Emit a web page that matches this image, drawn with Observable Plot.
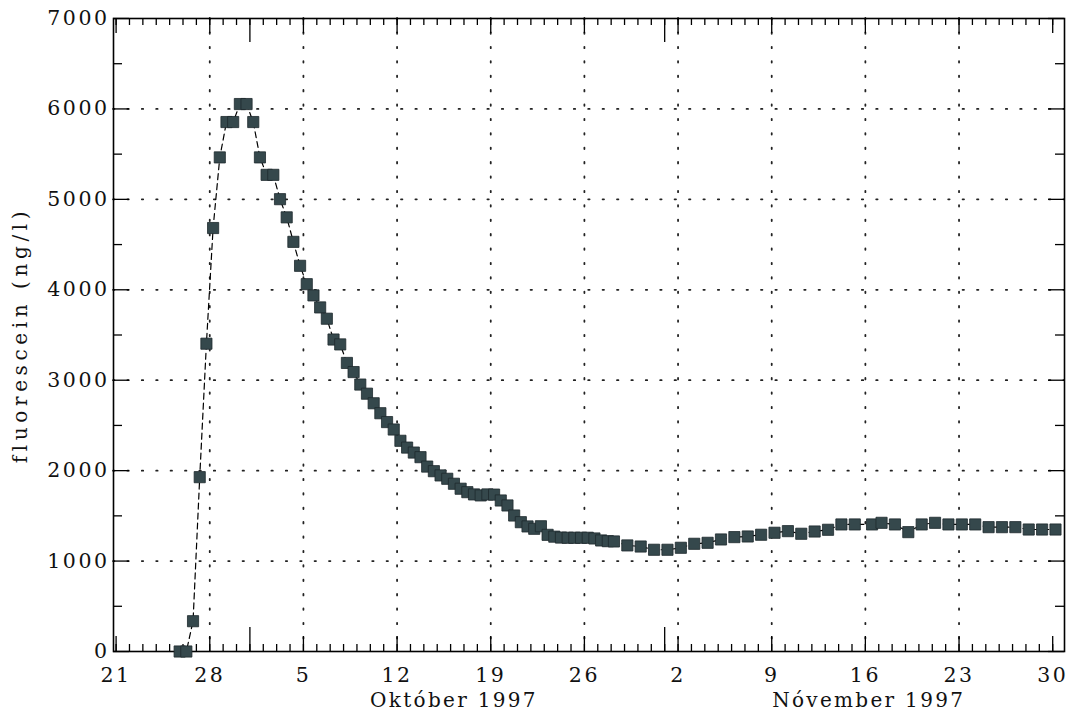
<!DOCTYPE html>
<html><head><meta charset="utf-8">
<script src="https://cdn.jsdelivr.net/npm/d3@7"></script>
<script src="https://cdn.jsdelivr.net/npm/@observablehq/plot@0.6"></script>
<style>
body{margin:0;background:#fff}
#chart svg{font-family:"DejaVu Serif",serif;background:#fff}
</style>
</head><body><div id="chart"></div>
<script>
// ---- data ----
const sampleTimes = [
"1997-09-25T18:00","1997-09-26T06:00","1997-09-26T18:00","1997-09-27T06:00","1997-09-27T18:00",
"1997-09-28T06:00","1997-09-28T18:00","1997-09-29T06:00","1997-09-29T18:00","1997-09-30T06:00",
"1997-09-30T18:00","1997-10-01T06:00","1997-10-01T18:00","1997-10-02T06:00","1997-10-02T18:00",
"1997-10-03T06:00","1997-10-03T18:00","1997-10-04T06:00","1997-10-04T18:00","1997-10-05T06:00",
"1997-10-05T18:00","1997-10-06T06:00","1997-10-06T18:00","1997-10-07T06:00","1997-10-07T18:00",
"1997-10-08T06:00","1997-10-08T18:00","1997-10-09T06:00","1997-10-09T18:00","1997-10-10T06:00",
"1997-10-10T18:00","1997-10-11T06:00","1997-10-11T18:00","1997-10-12T06:00","1997-10-12T18:00",
"1997-10-13T06:00","1997-10-13T18:00","1997-10-14T06:00","1997-10-14T18:00","1997-10-15T06:00",
"1997-10-15T18:00","1997-10-16T06:00","1997-10-16T18:00","1997-10-17T06:00","1997-10-17T18:00",
"1997-10-18T06:00","1997-10-18T18:00","1997-10-19T06:00","1997-10-19T18:00","1997-10-20T06:00",
"1997-10-20T18:00","1997-10-21T06:00","1997-10-21T18:00","1997-10-22T06:00","1997-10-22T18:00",
"1997-10-23T06:00","1997-10-23T18:00","1997-10-24T06:00","1997-10-24T18:00","1997-10-25T06:00",
"1997-10-25T18:00","1997-10-26T06:00","1997-10-26T18:00","1997-10-27T06:00","1997-10-27T18:00",
"1997-10-28T05:00","1997-10-29T05:00","1997-10-30T05:00","1997-10-31T05:00","1997-11-01T05:00",
"1997-11-02T05:00","1997-11-03T05:00","1997-11-04T05:00","1997-11-05T05:00","1997-11-06T05:00",
"1997-11-07T05:00","1997-11-08T05:00","1997-11-09T05:00","1997-11-10T05:00","1997-11-11T05:00",
"1997-11-12T05:00","1997-11-13T05:00","1997-11-14T05:00","1997-11-15T05:00","1997-11-16T12:00",
"1997-11-17T05:00","1997-11-18T05:00","1997-11-19T05:00","1997-11-20T05:00","1997-11-21T05:00",
"1997-11-22T05:00","1997-11-23T05:00","1997-11-24T05:00","1997-11-25T05:00","1997-11-26T05:00",
"1997-11-27T05:00","1997-11-28T05:00","1997-11-29T05:00","1997-11-30T05:00"
];
const fluorescein = [
0,0,335,1928,3404,
4683,5464,5855,5855,6054,
6054,5855,5464,5271,5271,
5002,4801,4530,4265,4062,
3938,3805,3680,3450,3396,
3191,3090,2952,2851,2745,
2635,2537,2455,2330,2255,
2200,2149,2045,1994,1947,
1910,1855,1800,1762,1737,
1726,1737,1735,1670,1615,
1504,1430,1383,1357,1385,
1290,1270,1260,1258,1258,
1258,1258,1250,1228,1220,
1217,1173,1161,1125,1125,
1147,1191,1202,1239,1265,
1272,1291,1313,1331,1302,
1327,1346,1405,1405,1405,
1423,1405,1320,1405,1423,
1405,1405,1405,1375,1375,
1375,1349,1349,1349
];
const xTickDates = ["1997-09-21","1997-09-28","1997-10-05","1997-10-12","1997-10-19","1997-10-26",
                    "1997-11-02","1997-11-09","1997-11-16","1997-11-23","1997-11-30"];
const xTickLabels = ["21","28","5","12","19","26","2","9","16","23","30"];
const monthStarts = ["1997-10-01","1997-11-01"];
const monthLabels = ["Október 1997","Nóvember 1997"];
const monthLabelCenters = ["1997-10-16T06:00","1997-11-16T06:00"];
const yTicks = [0,1000,2000,3000,4000,5000,6000,7000];
const yMinorTicks = [500,1500,2500,3500,4500,5500,6500];
const yGrid = [1000,2000,3000,4000,5000,6000];
const xDomain = ["1997-09-20T19:20","1997-11-30T21:10"];
const yLabel = "fluorescein (ng/l)";

// ---- build ----
const parse = s => new Date(s.length === 10 ? s + "T00:00:00Z" : s + ":00Z");
const data = sampleTimes.map((t, i) => ({date: parse(t), value: fluorescein[i]}));
const weekTicks = xTickDates.map(parse);
const monthTicks = monthStarts.map(parse);
const domain = xDomain.map(parse);
const dayTicks = d3.utcDay.range(parse("1997-09-21"), parse("1997-12-01"));
const gridX = weekTicks.slice(1, -1);
const months = monthLabels.map((m, i) => ({label: m, date: parse(monthLabelCenters[i])}));

const W = 1082, H = 713, mL = 113, mR = 18, mT = 18, mB = 62;
const iW = W - mL - mR, iH = H - mT - mB;
const tickFont = 20.5;
const labelFont = 20;

const chart = Plot.plot({
  width: W, height: H,
  marginLeft: mL, marginRight: mR, marginTop: mT, marginBottom: mB,
  x: {type: "utc", domain},
  y: {domain: [0, 7000]},
  marks: [
    // dotted grid
    Plot.ruleY(yGrid, {y: d => d, stroke: "#222", strokeWidth: 1.8, strokeDasharray: "1.4,13", strokeLinecap: "round"}),
    Plot.ruleX(gridX, {x: d => d, stroke: "#222", strokeWidth: 1.8, strokeDasharray: "1.4,13", strokeLinecap: "round"}),
    // inward ticks bottom
    Plot.ruleX(dayTicks, {x: d => d, insetTop: iH - 7, stroke: "black", strokeWidth: 1.3}),
    Plot.ruleX(weekTicks, {x: d => d, insetTop: iH - 15, stroke: "black", strokeWidth: 1.3}),
    Plot.ruleX(monthTicks, {x: d => d, insetTop: iH - 24, stroke: "black", strokeWidth: 1.3}),
    // inward ticks top
    Plot.ruleX(dayTicks, {x: d => d, insetBottom: iH - 7, stroke: "black", strokeWidth: 1.3}),
    Plot.ruleX(weekTicks, {x: d => d, insetBottom: iH - 15, stroke: "black", strokeWidth: 1.3}),
    Plot.ruleX(monthTicks, {x: d => d, insetBottom: iH - 24, stroke: "black", strokeWidth: 1.3}),
    // inward ticks left / right
    Plot.ruleY(yTicks, {y: d => d, insetRight: iW - 16, stroke: "black", strokeWidth: 1.3}),
    Plot.ruleY(yMinorTicks, {y: d => d, insetRight: iW - 9, stroke: "black", strokeWidth: 1.3}),
    Plot.ruleY(yTicks, {y: d => d, insetLeft: iW - 16, stroke: "black", strokeWidth: 1.3}),
    Plot.ruleY(yMinorTicks, {y: d => d, insetLeft: iW - 9, stroke: "black", strokeWidth: 1.3}),
    Plot.frame({stroke: "black", strokeWidth: 1.6}),
    // axes labels
    Plot.axisY({ticks: yTicks, tickSize: 0, tickPadding: 4, tickFormat: d => String(d),
      fontSize: tickFont, label: null, fill: "#111", className: "tick-y"}),
    Plot.axisX({ticks: weekTicks, tickSize: 0, tickPadding: 16, label: null, fontSize: tickFont, fill: "#111",
      className: "tick-x", tickFormat: d => xTickLabels[weekTicks.findIndex(t => +t === +d)]}),
    Plot.text(months, {x: "date", text: "label", frameAnchor: "bottom", lineAnchor: "middle", dy: 49,
      fontSize: labelFont, fill: "#111", className: "month-label"}),
    Plot.text([yLabel], {frameAnchor: "left", textAnchor: "middle", rotate: -90, dx: -93, fontSize: labelFont, fill: "#111", className: "y-label"}),
    // series
    Plot.line(data, {x: "date", y: "value", stroke: "black", strokeWidth: 1.2, strokeDasharray: "6,4"}),
    Plot.dot(data, {x: "date", y: "value", symbol: "square", r: 6.3, fill: "#35484c", stroke: "#1e2a2d", strokeWidth: 0.8})
  ]
});
const spacing = {"tick-y": "2.5px", "tick-x": "2.5px", "month-label": "2.3px", "y-label": "4.6px"};
for (const [cls, ls] of Object.entries(spacing)) {
  chart.querySelectorAll(`.${cls} text`).forEach(t => t.style.letterSpacing = ls);
}
document.getElementById("chart").appendChild(chart);
</script>
</body></html>
